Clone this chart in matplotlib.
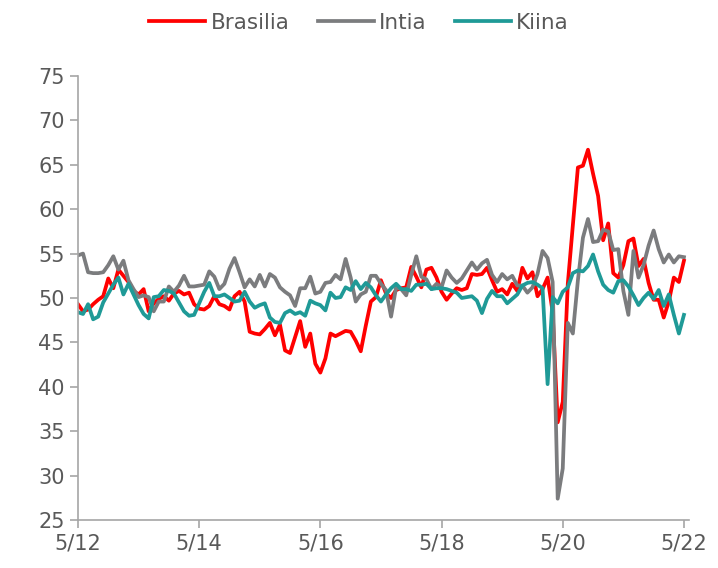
import matplotlib
matplotlib.use('Agg')
import matplotlib.pyplot as plt
import numpy as np

# Ostoaktiivisuusindeksit kuukausittain, 5/2012 - 5/2022
brasilia = [
    49.3, 48.5, 48.7, 49.3, 49.8, 50.2, 52.2, 51.1, 53.2, 52.5, 51.8, 50.8,
    50.4, 51.0, 48.5, 49.4, 49.9, 50.2, 49.7, 50.5, 50.8, 50.4, 50.6, 49.3,
    48.8, 48.7, 49.1, 50.2, 49.3, 49.1, 48.7, 50.2, 50.7, 49.6, 46.2, 46.0,
    45.9, 46.5, 47.2, 45.8, 47.0, 44.1, 43.8, 45.6, 47.4, 44.5, 46.0, 42.6,
    41.6, 43.2, 46.0, 45.7, 46.0, 46.3, 46.2, 45.2, 44.0, 46.9, 49.6, 50.1,
    52.0, 50.5, 50.0, 50.9, 51.1, 51.2, 53.5, 52.4, 51.2, 53.2, 53.4, 52.3,
    50.7, 49.8, 50.5, 51.1, 50.9, 51.1, 52.7, 52.6, 52.7, 53.4, 52.0, 50.7,
    51.0, 50.4, 51.6, 50.8, 53.4, 52.2, 52.9, 50.2, 51.0, 52.3, 48.4, 36.0,
    38.3, 51.6, 58.2, 64.7, 64.9, 66.7, 64.0, 61.5, 56.5, 58.4, 52.8, 52.3,
    53.7, 56.4, 56.7, 53.6, 54.4, 51.7, 49.8, 49.8, 47.8, 49.6, 52.3, 51.8,
    54.2,
]
intia = [
    54.8, 55.0, 52.9, 52.8, 52.8, 52.9, 53.7, 54.7, 53.2, 54.2, 52.0, 51.0,
    50.1, 50.3, 50.1, 48.5, 49.6, 49.6, 51.3, 50.7, 51.4, 52.5, 51.3, 51.3,
    51.4, 51.5, 53.0, 52.4, 51.0, 51.6, 53.3, 54.5, 52.9, 51.2, 52.1, 51.3,
    52.6, 51.3, 52.7, 52.3, 51.2, 50.7, 50.3, 49.1, 51.1, 51.1, 52.4, 50.5,
    50.7, 51.7, 51.8, 52.6, 52.1, 54.4, 52.3, 49.6, 50.4, 50.7, 52.5, 52.5,
    51.6, 50.9, 47.9, 51.2, 51.0, 50.3, 52.6, 54.7, 52.4, 52.1, 51.0, 51.6,
    51.2, 53.1, 52.3, 51.7, 52.2, 53.1, 54.0, 53.2, 53.9, 54.3, 52.6, 51.8,
    52.7, 52.1, 52.5, 51.4, 51.4, 50.6, 51.2, 52.7, 55.3, 54.5, 51.8, 27.4,
    30.8, 47.2, 46.0, 52.0, 56.8, 58.9, 56.3, 56.4, 57.7, 57.5, 55.4, 55.5,
    50.8, 48.1, 55.3, 52.3, 53.7, 55.9, 57.6, 55.5, 54.0, 54.9, 54.0, 54.7,
    54.6,
]
kiina = [
    48.4, 48.2, 49.3, 47.6, 47.9, 49.5, 50.5, 51.5, 52.3, 50.4, 51.6, 50.4,
    49.2, 48.2, 47.7, 50.1, 50.2, 50.9, 50.8, 50.5, 49.5, 48.5, 48.0, 48.1,
    49.4, 50.7, 51.7, 50.2, 50.2, 50.4, 50.0, 49.6, 49.7, 50.7, 49.6, 48.9,
    49.2, 49.4, 47.8, 47.3, 47.2, 48.3, 48.6, 48.2, 48.4, 48.0, 49.7, 49.4,
    49.2, 48.6, 50.6, 50.0, 50.1, 51.2, 50.9, 51.9, 51.0, 51.7, 51.2, 50.3,
    49.6, 50.4, 51.1, 51.6, 51.0, 51.0, 50.8, 51.5, 51.5, 51.6, 51.0, 51.1,
    51.1, 51.0, 50.8, 50.6, 50.0, 50.1, 50.2, 49.7, 48.3, 49.9, 50.8, 50.2,
    50.2, 49.4, 49.9, 50.4, 51.4, 51.7, 51.8, 51.5, 51.1, 40.3, 50.1, 49.4,
    50.7, 51.2, 52.8, 53.1, 53.0, 53.6, 54.9, 53.0, 51.5, 50.9, 50.6, 51.9,
    52.0, 51.3, 50.3, 49.2, 50.0, 50.6, 49.9, 50.9, 49.1, 50.4, 48.1, 46.0,
    48.1,
]
tick_pos = [0, 24, 48, 72, 96, 120]
tick_labels = ['5/12', '5/14', '5/16', '5/18', '5/20', '5/22']

text_col = '#595959'
axis_col = '#a6a6a6'

fig = plt.figure(figsize=(7.18, 5.68), dpi=100)
ax = fig.add_axes([0.1086, 0.0845, 0.851, 0.7817])

x = np.arange(len(brasilia))
ax.plot(x, brasilia, color='#ff0000', lw=2.7, label='Brasilia')
ax.plot(x, intia, color='#7b7c7e', lw=2.7, label='Intia')
ax.plot(x, kiina, color='#1f9a97', lw=2.7, label='Kiina')

ax.set_xlim(0, 121)
ax.set_ylim(25, 75)
ax.set_yticks(np.arange(25, 76, 5))
ax.set_xticks(tick_pos)
ax.set_xticklabels(tick_labels)

for s in ['top', 'right']:
    ax.spines[s].set_visible(False)
for s in ['left', 'bottom']:
    ax.spines[s].set_color(axis_col)
    ax.spines[s].set_linewidth(1.2)
ax.tick_params(axis='both', colors=axis_col, labelcolor=text_col,
               labelsize=15, length=6, width=1.2)
ax.tick_params(axis='x', pad=4)

leg = fig.legend(loc='upper center', bbox_to_anchor=(0.5, 1.012), ncol=3,
                 frameon=False, fontsize=15.5, handlelength=2.6,
                 handletextpad=0.25, columnspacing=1.3)
for t in leg.get_texts():
    t.set_color(text_col)

fig.savefig('out.png', dpi=100)
